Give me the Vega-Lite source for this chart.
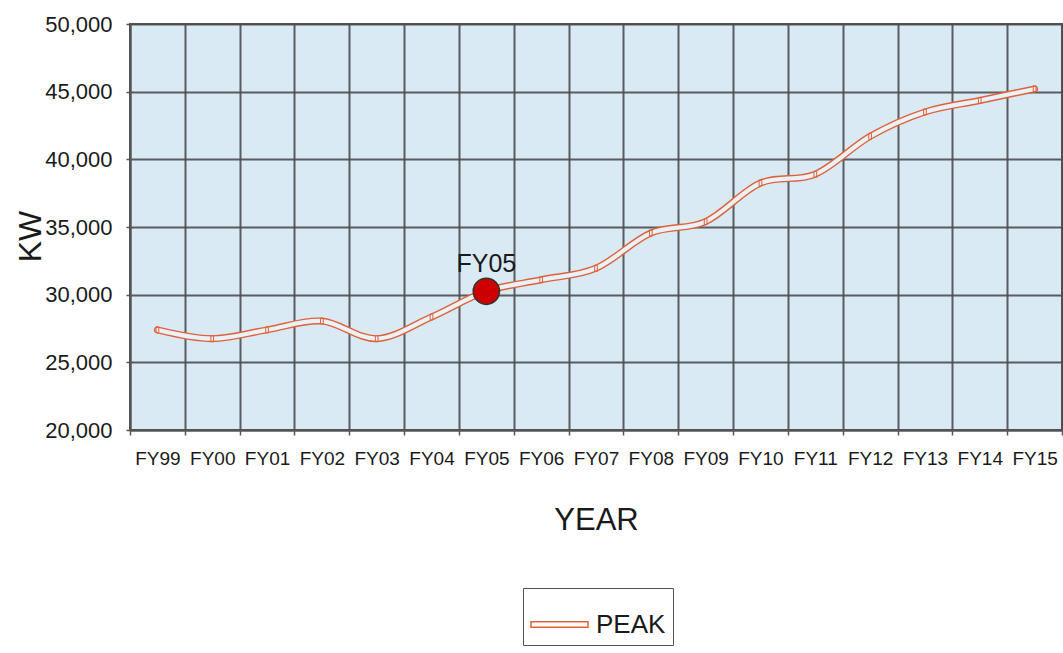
{
  "$schema": "https://vega.github.io/schema/vega-lite/v6.json",
  "autosize": "none",
  "width": 932,
  "height": 406,
  "padding": {"left": 130, "top": 24, "right": 1, "bottom": 223},
  "background": "#ffffff",
  "config": {
    "font": "Liberation Sans, Arial, sans-serif",
    "view": {"fill": "#d9eaf4", "stroke": "#555555", "strokeWidth": 2},
    "axis": {
      "domainColor": "#555555",
      "domainWidth": 2,
      "tickColor": "#555555",
      "tickWidth": 1.5,
      "gridColor": "#4d4d4d",
      "gridWidth": 2,
      "gridOpacity": 0.9,
      "labelColor": "#1a1a1a",
      "titleColor": "#1a1a1a",
      "titleFontWeight": "normal"
    }
  },
  "data": {
    "values": [
      {"year": "FY99", "kw": 27400},
      {"year": "FY00", "kw": 26750},
      {"year": "FY01", "kw": 27400},
      {"year": "FY02", "kw": 28050},
      {"year": "FY03", "kw": 26750},
      {"year": "FY04", "kw": 28350},
      {"year": "FY05", "kw": 30250},
      {"year": "FY06", "kw": 31100},
      {"year": "FY07", "kw": 31950},
      {"year": "FY08", "kw": 34550},
      {"year": "FY09", "kw": 35400},
      {"year": "FY10", "kw": 38250},
      {"year": "FY11", "kw": 38900},
      {"year": "FY12", "kw": 41700},
      {"year": "FY13", "kw": 43500},
      {"year": "FY14", "kw": 44350},
      {"year": "FY15", "kw": 45200}
    ]
  },
  "encoding": {
    "x": {
      "field": "year",
      "type": "ordinal",
      "sort": null,
      "scale": {"type": "band", "paddingInner": 0, "paddingOuter": 0},
      "axis": {
        "title": "YEAR",
        "labelAngle": 0,
        "tickBand": "extent",
        "grid": true,
        "tickSize": 5,
        "labelPadding": 14,
        "labelFontSize": 19,
        "titleFontSize": 31,
        "titleBaseline": "alphabetic",
        "titleY": 99
      }
    },
    "y": {
      "field": "kw",
      "type": "quantitative",
      "scale": {"domain": [20000, 50000], "nice": false, "zero": false},
      "axis": {
        "title": "KW",
        "values": [20000, 25000, 30000, 35000, 40000, 45000, 50000],
        "format": ",.0f",
        "grid": true,
        "tickSize": 4,
        "labelPadding": 14,
        "labelFontSize": 22,
        "titleFontSize": 32,
        "titleAngle": -90,
        "titleBaseline": "alphabetic",
        "titleAlign": "center",
        "titleX": -90,
        "titleY": 212
      }
    }
  },
  "layer": [
    {
      "mark": {"type": "line", "interpolate": "cardinal", "strokeWidth": 7, "strokeCap": "round"},
      "encoding": {
        "color": {
          "datum": "PEAK",
          "scale": {"range": ["#e0603a"]},
          "legend": {
            "title": null,
            "orient": "none",
            "legendX": 393,
            "legendY": 564,
            "direction": "horizontal",
            "strokeColor": "#555555",
            "fillColor": "#ffffff",
            "padding": 7,
            "symbolType": "M-1,-0.1 L1,-0.1 L1,0.1 L-1,0.1 Z",
            "symbolSize": 3249,
            "symbolFillColor": "#ffffff",
            "symbolStrokeColor": "#e0603a",
            "symbolStrokeWidth": 1.5,
            "labelFontSize": 26,
            "labelColor": "#1a1a1a",
            "labelOffset": 7
          }
        }
      }
    },
    {
      "mark": {"type": "line", "interpolate": "cardinal", "strokeWidth": 4.2, "strokeCap": "round", "color": "#e8f2f8"},
      "encoding": {}
    },
    {
      "mark": {
        "type": "point",
        "shape": "M-0.45,-1 L0.45,-1 L0.45,1 L-0.45,1 Z",
        "size": 36,
        "filled": false,
        "color": "#e0603a",
        "strokeWidth": 1,
        "opacity": 1
      },
      "encoding": {}
    },
    {
      "transform": [{"filter": "datum.year === 'FY05'"}],
      "mark": {
        "type": "point",
        "shape": "circle",
        "size": 690,
        "filled": true,
        "fill": "#cc0000",
        "stroke": "#333333",
        "strokeWidth": 1.5,
        "opacity": 1
      },
      "encoding": {}
    },
    {
      "transform": [{"filter": "datum.year === 'FY05'"}],
      "mark": {
        "type": "text",
        "font": "Liberation Sans, Arial, sans-serif",
        "fontSize": 25,
        "color": "#1a1a1a",
        "baseline": "alphabetic",
        "align": "center",
        "dy": -19
      },
      "encoding": {"text": {"field": "year"}}
    }
  ]
}
